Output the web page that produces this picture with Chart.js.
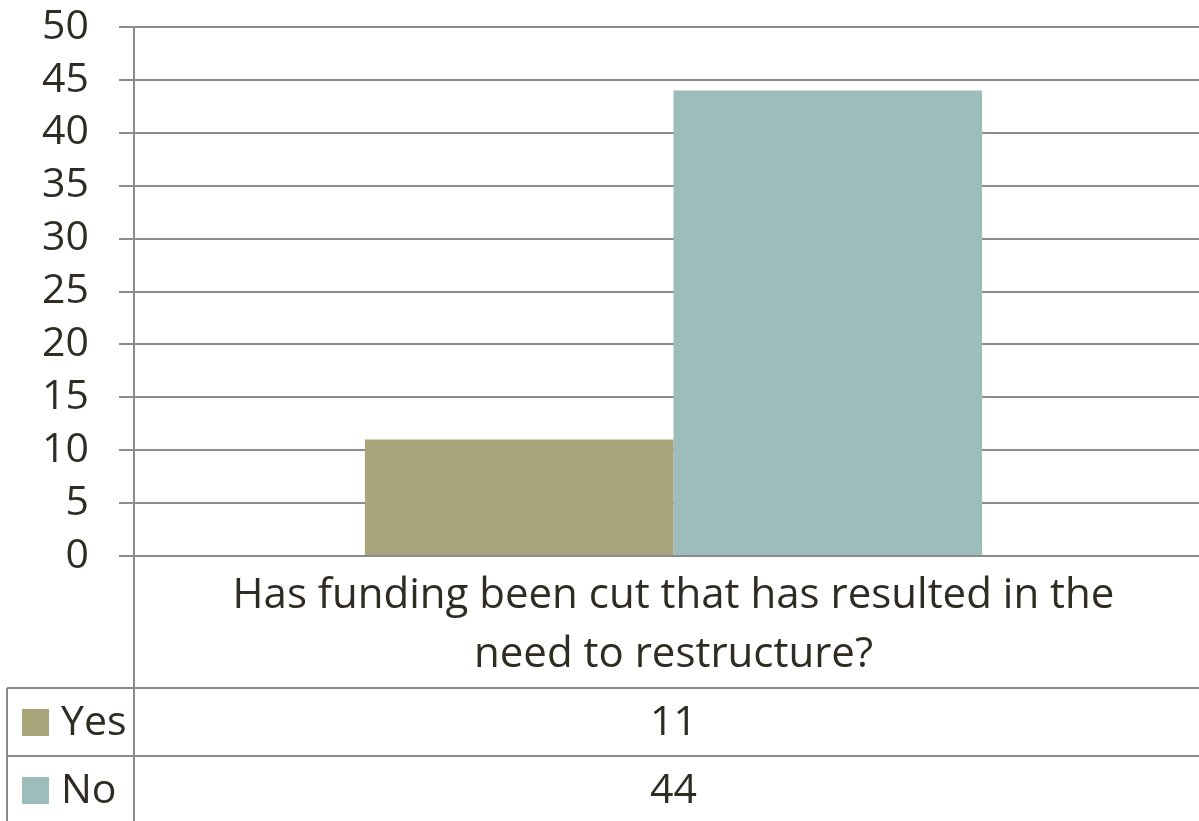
<!DOCTYPE html>
<html>
<head>
<meta charset="utf-8">
<script src="https://cdn.jsdelivr.net/npm/chart.js@4.4.0/dist/chart.umd.min.js"></script>
<style>
  html, body { margin: 0; padding: 0; background: #fff; overflow: hidden; }
  #wrap { width: 1213px; height: 821px; }
</style>
</head>
<body>
<div id="wrap"><canvas id="chart" width="1213" height="821"></canvas></div>
<script>
const categories = [['Has funding been cut that has resulted in the', 'need to restructure?']];
const seriesNames = ['Yes', 'No'];
const yesValues = [11];
const noValues = [44];
const yMax = 50;
const yStep = 5;

const colors = ['#a8a57b', '#9dbdbc'];
const gridColor = '#8c8c8c';
const textColor = '#302c24';
const fontFamily = '"Open Sans", sans-serif';

// draws the Excel-style data table under the x axis
const dataTable = {
    id: 'dataTable',
    afterDraw(chart) {
        const ctx = chart.ctx;
        const area = chart.chartArea;
        const xScale = chart.scales.x;
        const rowTop = 688, rowH = 68, left = 7, bottom = 821;
        ctx.save();
        ctx.strokeStyle = gridColor;
        ctx.lineWidth = 2;
        ctx.beginPath();
        ctx.moveTo(area.left, area.top);
        ctx.lineTo(area.left, bottom);
        ctx.moveTo(left, rowTop);
        ctx.lineTo(left, bottom);
        for (let i = 0; i < chart.data.datasets.length; i++) {
            ctx.moveTo(left, rowTop + i * rowH);
            ctx.lineTo(chart.width, rowTop + i * rowH);
        }
        ctx.stroke();

        ctx.font = '41px ' + fontFamily;
        ctx.textBaseline = 'middle';
        chart.data.datasets.forEach((ds, i) => {
            const cy = rowTop + i * rowH + rowH / 2;
            ctx.fillStyle = ds.backgroundColor;
            ctx.fillRect(22, cy - 13, 27, 27);
            ctx.fillStyle = textColor;
            ctx.textAlign = 'left';
            ctx.fillText(ds.label, 61, cy + 1);
            ctx.textAlign = 'center';
            ds.data.forEach((v, j) => {
                ctx.fillText(String(v), xScale.getPixelForValue(j), cy + 1);
            });
        });
        ctx.restore();
    }
};

new Chart(document.getElementById('chart'), {
    type: 'bar',
    data: {
        labels: categories,
        datasets: [
            { label: seriesNames[0], data: yesValues, backgroundColor: colors[0] },
            { label: seriesNames[1], data: noValues, backgroundColor: colors[1] }
        ]
    },
    options: {
        responsive: false,
        animation: false,
        layout: { padding: { top: 27, bottom: 133, left: 0, right: 0 } },
        plugins: { legend: { display: false }, tooltip: { enabled: false } },
        datasets: { bar: { barPercentage: 1, categoryPercentage: 0.572 } },
        scales: {
            x: {
                grid: { display: false },
                border: { display: false },
                ticks: {
                    color: textColor,
                    font: { family: fontFamily, size: 42, lineHeight: 1.4 },
                    maxRotation: 0,
                    padding: 3
                },
                afterFit(scale) { scale.height = 132; }
            },
            y: {
                min: 0,
                max: yMax,
                grid: { color: gridColor, lineWidth: 2, tickLength: 15 },
                border: { display: false },
                ticks: {
                    stepSize: yStep,
                    autoSkip: false,
                    color: textColor,
                    font: { family: fontFamily, size: 41 },
                    padding: 30
                },
                afterFit(scale) {
                    scale.width = 134;
                    scale.paddingTop = 0;
                    scale.paddingBottom = 0;
                }
            }
        }
    },
    plugins: [dataTable]
});
</script>
</body>
</html>
